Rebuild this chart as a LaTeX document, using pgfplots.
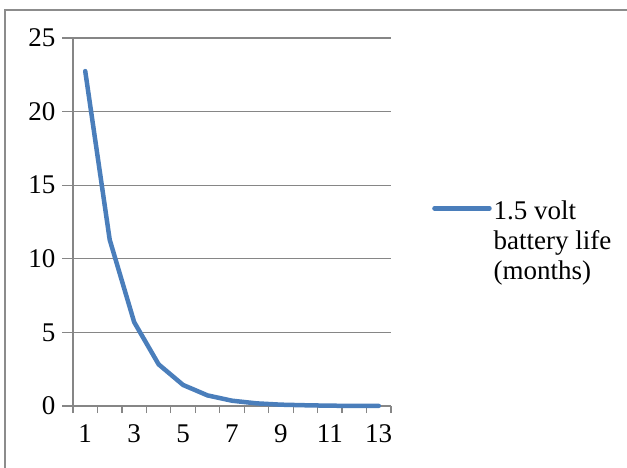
\documentclass[border=0pt]{standalone}
\usepackage{pgfplots}
\pgfplotsset{compat=1.18}
\usepackage{fontspec}
\setmainfont{Liberation Serif}
\definecolor{xlblue}{HTML}{4A7EBB}
\definecolor{gridgray}{HTML}{868686}
\definecolor{bordergray}{HTML}{8C8C8C}
\begin{document}
\begin{tikzpicture}[x=1pt,y=1pt,font=\fontsize{27}{30}\selectfont]
\useasboundingbox (0,0) rectangle (627,467);
\draw[bordergray,line width=1.6pt] (5,-10) rectangle (640,457);
\begin{axis}[
  at={(73pt,61pt)}, anchor=south west,
  scale only axis, width=318pt, height=368pt,
  xmin=0.5, xmax=13.5, ymin=0, ymax=25,
  axis x line*=bottom, axis y line*=left,
  axis line style={gridgray,line width=1.2pt},
  xtick={0.5,1.5,2.5,3.5,4.5,5.5,6.5,7.5,8.5,9.5,10.5,11.5,12.5,13.5},
  xticklabels={1,,3,,5,,7,,9,,11,,13,},
  xticklabel style={xshift=12.2pt, yshift=-8pt},
  ytick={0,5,...,25},
  ymajorgrids,
  grid style={gridgray,line width=1.2pt},
  tick align=outside,
  x tick style={gridgray,line width=1.2pt},
  y tick style={gridgray,line width=1.2pt},
  /pgf/number format/assume math mode=true,
  tick label style={font=\fontsize{27}{30}\selectfont, black},
  yticklabel style={xshift=-7pt},
  major tick length=7pt,
  legend style={at={(1.129,0.571)}, anchor=north west, draw=none, fill=none,
    font=\fontsize{27}{30}\selectfont, inner sep=0pt},
  legend cell align=left,
  legend image code/.code={\draw[#1,line width=4.5pt] (0pt,1pt) -- (55pt,1pt);},
  clip=false,
]
\addplot[xlblue, line width=4.5pt, line join=round, line cap=round] coordinates {
  (1,22.75) (2,11.3) (3,5.7) (4,2.83) (5,1.43) (6,0.72) (7,0.36)
  (8,0.18) (9,0.09) (10,0.05) (11,0.02) (12,0.01) (13,0.01)
};
\addlegendentry{\begin{tabular}[t]{@{}l@{}}1.5 volt\\battery life\\(months)\end{tabular}}
\end{axis}
\draw[gridgray,line width=1.2pt] (62,61) -- (73,61);
\foreach \v in {5,10,15,20,25} {\draw[gridgray,line width=1.2pt] (62,{61+\v*368/25}) -- (73,{61+\v*368/25});}
\end{tikzpicture}
\end{document}
